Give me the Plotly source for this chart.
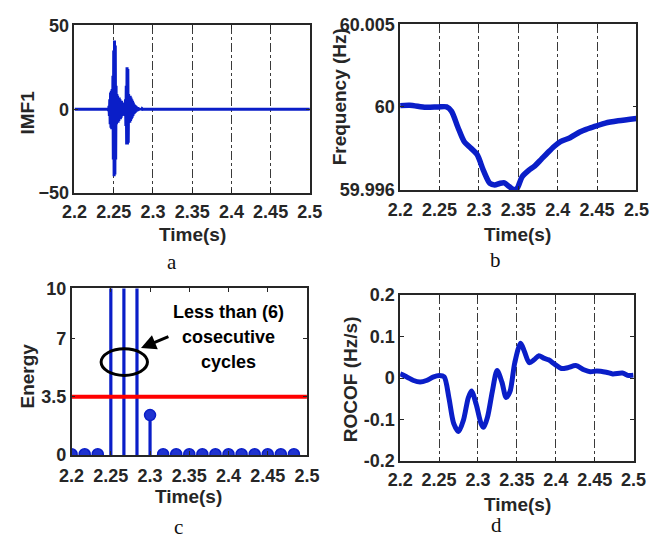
import numpy as np
import plotly.graph_objects as go

# ---------------- data ----------------
# (a) IMF1 of the measured signal, sampled every 0.5 ms through the transient
imf_t0 = 2.2430
imf_dt = 0.0005
imf_vals = [
    0.5, -1, 2, -4, 6, -9, 10, -11, 11, -12,
    12, -12, 20, -30, 35, -40, 41, -39, 38, -30,
    14, -9, 9, -8, 8, -8, 7, -7, 7, -6,
    6, -6, 5, -5, 5, -4, 4, -3.5, 3.5, -3,
    3, -3, 3, -4, 6, -10, 14, -21, 25, -21,
    24, -20, 9, -8, 8, -8, 8, -7, 7, -6,
    6, -5, 5, -4, 4, -3, 3, -2.5, 2.5, -2,
    2, -1.5, 1.5, -1.2, 1.2, -1, 1, -0.8, 0.8, -0.6,
    0.6, -0.5, 0.4, -0.3, 0.3, -0.2, 0.2, -0.1, 0.1, 0,
]
imf_lead_t = [2.2, 2.2425]
imf_lead_v = [0.0, 0.0]
imf_tail_t = [2.30, 2.50]
imf_tail_v = [0.0, 0.0]

# (b) estimated frequency
freq_t = [2.2, 2.2122, 2.2326, 2.2488, 2.259, 2.2651, 2.2733, 2.2814, 2.2896,
          2.2977, 2.3058, 2.314, 2.32, 2.3262, 2.3323, 2.3384, 2.3445, 2.3486,
          2.3547, 2.3628, 2.371, 2.3791, 2.3872, 2.3954, 2.4035, 2.4157,
          2.428, 2.4361, 2.4483, 2.4605, 2.4768, 2.5]
freq_v = [60.00003, 60.00005, 59.99995, 59.99997, 59.99997, 59.99977,
          59.99900, 59.99831, 59.99801, 59.99770, 59.99693, 59.99632,
          59.99625, 59.99632, 59.99635, 59.99617, 59.99602, 59.99609,
          59.99663, 59.99693, 59.99716, 59.99747, 59.99778, 59.99808,
          59.99831, 59.99850, 59.99877, 59.99890, 59.99905, 59.99920,
          59.99931, 59.99942]
freq_ticks = [59.996, 60, 60.0039]
freq_ticktext = ["59.996", "60", "60.005"]

# (c) per-cycle energy of IMF1 (one value per 60 Hz cycle)
cycle_idx = list(range(18))
cycle_t = [2.2 + k / 60 for k in cycle_idx]
energy_v = [0.05, 0.05, 0.05, 60.0, 48.0, 36.0, 2.4, 0.05, 0.05,
            0.05, 0.05, 0.05, 0.05, 0.05, 0.05, 0.05, 0.05, 0.05]
energy_threshold = 3.5

# (d) rate of change of frequency
rocof_t = [2.2, 2.2091, 2.2173, 2.2256, 2.2338, 2.2421, 2.2503, 2.2565,
           2.2627, 2.2689, 2.2751, 2.2813, 2.2875, 2.2916, 2.2978, 2.304,
           2.3073, 2.3123, 2.3184, 2.3246, 2.3308, 2.3362, 2.3411, 2.3473,
           2.3548, 2.3597, 2.3659, 2.3721, 2.3783, 2.3845, 2.3907, 2.3989,
           2.4072, 2.4154, 2.4257, 2.4361, 2.4443, 2.4526, 2.4649, 2.4732,
           2.4856, 2.4938, 2.5]
rocof_v = [0.010, 0.002, -0.006, -0.0096, -0.006, 0.002, 0.006, 0.003,
           -0.048, -0.110, -0.129, -0.102, -0.048, -0.031, -0.064, -0.110,
           -0.119, -0.094, -0.033, 0.018, -0.010, -0.047, -0.033, 0.037,
           0.084, 0.064, 0.037, 0.044, 0.054, 0.048, 0.044, 0.033,
           0.023, 0.025, 0.030, 0.020, 0.015, 0.017, 0.014, 0.010,
           0.012, 0.006, 0.007]

time_ticks = [2.2, 2.25, 2.3, 2.35, 2.4, 2.45, 2.5]
time_ticktext = ["2.2", "2.25", "2.3", "2.35", "2.4", "2.45", "2.5"]

# ---------------- styling ----------------
W, H = 661, 547
BLUE = "#0a1ec8"
AXC = "#262626"
TICKFONT = dict(family="Liberation Sans, Arial, sans-serif", size=18, color=AXC, weight="bold")
TITLEFONT = dict(family="Liberation Sans, Arial, sans-serif", size=19, color=AXC, weight="bold")
SERIF = dict(family="Liberation Serif, Times New Roman, serif", size=21, color="#111111")


def px_dom(x0, x1, y0, y1):
    """Convert a pixel box (top-left origin) to paper domains."""
    return [x0 / W, x1 / W], [(H - y1) / H, (H - y0) / H]


fig = go.Figure()

imf_t = imf_lead_t + [imf_t0 + i * imf_dt for i in range(len(imf_vals))] + imf_tail_t
imf_v = imf_lead_v + imf_vals + imf_tail_v
fig.add_trace(go.Scatter(x=imf_t, y=imf_v, mode="lines",
                         line=dict(color=BLUE, width=3), xaxis="x", yaxis="y"))

fig.add_trace(go.Scatter(x=freq_t, y=freq_v, mode="lines",
                         line=dict(color=BLUE, width=5.5, shape="spline", smoothing=0.8),
                         xaxis="x2", yaxis="y2"))

# stems
stem_x, stem_y = [], []
for t, v in zip(cycle_t, energy_v):
    stem_x += [t, t, None]
    stem_y += [0, v, None]
fig.add_trace(go.Scatter(x=stem_x, y=stem_y, mode="lines",
                         line=dict(color=BLUE, width=3.2), xaxis="x3", yaxis="y3"))
fig.add_trace(go.Scatter(x=cycle_t, y=energy_v, mode="markers",
                         marker=dict(color="#1f33d0", size=11,
                                     line=dict(color=BLUE, width=1.5)),
                         xaxis="x3", yaxis="y3"))
fig.add_trace(go.Scatter(x=[2.2, 2.5], y=[energy_threshold, energy_threshold], mode="lines",
                         line=dict(color="#ff0000", width=4), xaxis="x3", yaxis="y3"))

fig.add_trace(go.Scatter(x=rocof_t, y=rocof_v, mode="lines",
                         line=dict(color=BLUE, width=5, shape="spline", smoothing=0.8),
                         xaxis="x4", yaxis="y4"))

common_x = dict(range=[2.2, 2.5], tickvals=time_ticks, ticktext=time_ticktext,
                showline=True, linecolor=AXC, linewidth=1.5, mirror="ticks",
                ticks="inside", ticklen=4, tickcolor=AXC, tickfont=TICKFONT,
                ticklabelstandoff=2,
                zeroline=False, showgrid=True, gridcolor="#3a3a3a", gridwidth=1,
                griddash="dashdot", fixedrange=True)
common_y = dict(showline=True, linecolor=AXC, linewidth=1.5, mirror="ticks",
                ticks="inside", ticklen=4, tickcolor=AXC, tickfont=TICKFONT,
                zeroline=False, showgrid=False, fixedrange=True)

xa, ya = px_dom(64, 309, 16, 190)
xb, yb = px_dom(403, 649, 15, 187)
xc, yc = px_dom(61, 306, 289, 462)
xd, yd = px_dom(403, 646, 296, 468)

fig.update_layout(
    width=W, height=H, margin=dict(l=0, r=0, t=0, b=0),
    paper_bgcolor="white", plot_bgcolor="white", showlegend=False,
    xaxis=dict(common_x, domain=xa, anchor="y"),
    yaxis=dict(common_y, domain=ya, anchor="x", range=[-50, 50], tickvals=[-50, 0, 50]),
    xaxis2=dict(common_x, domain=xb, anchor="y2"),
    yaxis2=dict(common_y, domain=yb, anchor="x2", range=[59.996, 60.0039],
                tickvals=freq_ticks, ticktext=freq_ticktext),
    xaxis3=dict(common_x, domain=xc, anchor="y3", showgrid=False, ticklabelstandoff=4),
    yaxis3=dict(common_y, domain=yc, anchor="x3", range=[0, 10], tickvals=[0, 3.5, 7, 10],
                ticktext=["0", "3.5", "7", "10"]),
    xaxis4=dict(common_x, domain=xd, anchor="y4"),
    yaxis4=dict(common_y, domain=yd, anchor="x4", range=[-0.2, 0.2],
                tickvals=[-0.2, -0.1, 0, 0.1, 0.2], ticktext=["-0.2", "-0.1", "0", "0.1", "0.2"]),
)

# ellipse and arrow marking the consecutive high-energy cycles
fig.add_shape(type="circle", xref="x3", yref="y3", x0=2.2376, x1=2.2967, y0=4.78, y1=6.38,
              line=dict(color="black", width=3))
fig.add_annotation(xref="x3", yref="y3", axref="x3", ayref="y3",
                   x=2.2885, y=6.42, ax=2.3253, ay=7.15, text="", showarrow=True,
                   arrowhead=2, arrowsize=1, arrowwidth=3, arrowcolor="black")

ann = []


def label(text, x, y, font, angle=0):
    ann.append(dict(text=text, x=x / W, y=(H - y) / H, xref="paper", yref="paper",
                    showarrow=False, font=font, textangle=angle,
                    xanchor="center", yanchor="middle"))


BLACKBOLD = dict(family="Liberation Sans, Arial, sans-serif", size=18, color="black", weight="bold")
label("Less than (6)", 224, 313, BLACKBOLD)
label("cosecutive", 224, 339, BLACKBOLD)
label("cycles", 224, 365, BLACKBOLD)

label("Time(s)", 187, 233, TITLEFONT)
label("Time(s)", 525, 233, TITLEFONT)
label("Time(s)", 183, 505, TITLEFONT)
label("Time(s)", 525, 513, TITLEFONT)
label("IMF1", 15, 106, TITLEFONT, -90)
label("Frequency (Hz)", 340, 90, TITLEFONT, -90)
label("Energy", 15, 380, TITLEFONT, -90)
label("ROCOF (Hz/s)", 352, 383, TITLEFONT, -90)
label("a", 166, 262, SERIF)
label("b", 502, 260, SERIF)
label("c", 172, 537, SERIF)
label("d", 503, 535, SERIF)

for a in ann:
    fig.add_annotation(**a)

fig.write_html("out.html")
